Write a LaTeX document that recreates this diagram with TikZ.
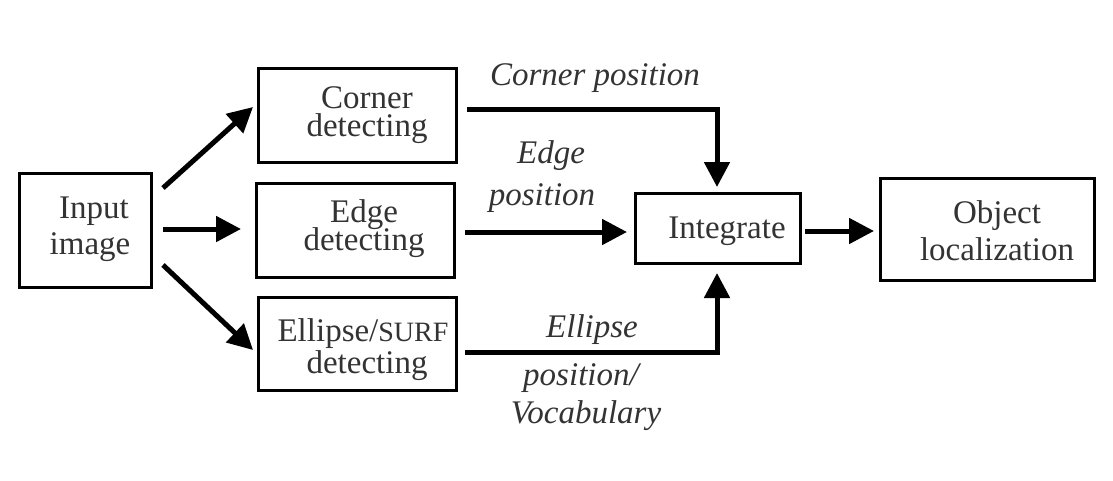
\documentclass[tikz,border=0pt]{standalone}
\usepackage{fontspec}
\setmainfont{Liberation Serif}
\usetikzlibrary{arrows.meta}
\definecolor{txt}{HTML}{333333}
\begin{document}
\begin{tikzpicture}[x=1pt,y=-1pt,
  box/.style={draw, line width=3.5pt, rectangle, inner sep=0pt},
  boxtxt/.style={anchor=base, inner sep=0pt, text=txt, font=\fontsize{33}{33}\selectfont},
  lbl/.style={anchor=base, inner sep=0pt, text=txt, font=\itshape\fontsize{33}{33}\selectfont},
  arr/.style={line width=5pt, -{Triangle[length=25pt,width=25pt]}}]
\useasboundingbox[fill=white] (0,0) rectangle (1113,480);
% boxes
\node[box, minimum width=132pt, minimum height=114pt] (in) at (85.5,230.5) {};
\node[box, minimum width=198pt, minimum height=94pt] (cor) at (357.5,115.5) {};
\node[box, minimum width=198pt, minimum height=94pt] (edg) at (355.5,230.5) {};
\node[box, minimum width=198pt, minimum height=93pt] (ell) at (357.5,344) {};
\node[box, minimum width=165pt, minimum height=70pt] (int) at (718,228.5) {};
\node[box, minimum width=214pt, minimum height=102pt] (obj) at (987.5,229.5) {};
% box texts
\node[boxtxt] (in1) at (94,218) {Input};
\node[boxtxt] (in2) at (90,254) {image};
\node[boxtxt] (cor1) at (367,108) {Corner};
\node[boxtxt] (cor2) at (367,136) {detecting};
\node[boxtxt] (edg1) at (364,222) {Edge};
\node[boxtxt] (edg2) at (364,250) {detecting};
\node[boxtxt] (ell1) at (363,341) {Ellipse/{\fontsize{28}{28}\selectfont SURF}};
\node[boxtxt] (ell2) at (367,373) {detecting};
\node[boxtxt] (int1) at (727,238) {Integrate};
\node[boxtxt] (obj1) at (997,223) {Object};
\node[boxtxt] (obj2) at (997,260) {localization};
% labels
\node[lbl] (l1) at (595,85) {Corner position};
\node[lbl] (l2) at (551,163) {Edge};
\node[lbl] (l3) at (542,205) {position};
\node[lbl] (l4) at (592,337) {Ellipse};
\node[lbl] (l5) at (581,385) {position/};
\node[lbl] (l6) at (586,423) {Vocabulary};
% connector end points
\coordinate (s1) at (163,188);
\coordinate (t1) at (253,107);
\coordinate (s2) at (163,229);
\coordinate (t2) at (241,229);
\coordinate (s3) at (163,265);
\coordinate (t3) at (253,350);
\coordinate (s4) at (467,109);
\coordinate (t4) at (717,187);
\coordinate (s5) at (465,232);
\coordinate (t5) at (627,232);
\coordinate (s6) at (465,352);
\coordinate (t6) at (717,273);
\coordinate (s7) at (805,231);
\coordinate (t7) at (874,231);
% connectors
\draw[arr] (s1) -- (t1);
\draw[arr] (s2) -- (t2);
\draw[arr] (s3) -- (t3);
\draw[arr] (s4) -| (t4);
\draw[arr] (s5) -- (t5);
\draw[arr] (s6) -| (t6);
\draw[arr] (s7) -- (t7);
\end{tikzpicture}
\end{document}
